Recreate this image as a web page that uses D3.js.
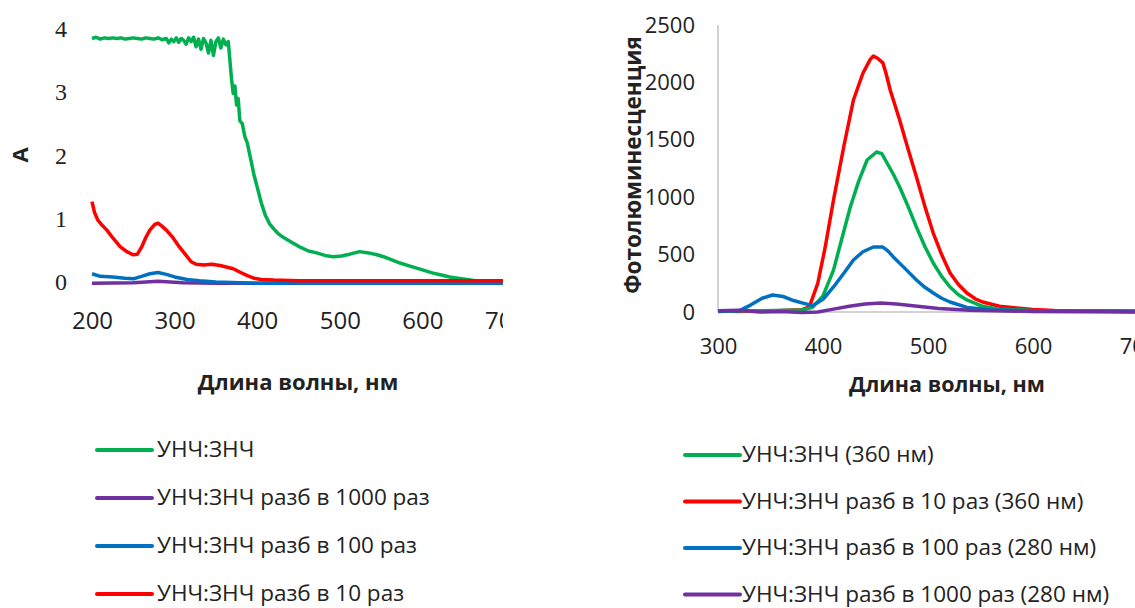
<!DOCTYPE html>
<html>
<head>
<meta charset="utf-8">
<script src="https://cdn.jsdelivr.net/npm/d3@7"></script>
<style>
  body { margin: 0; background: #fff; }
  text { font-family: "Open Sans", sans-serif; fill: #222; }
</style>
</head>
<body>
<div id="chart"></div>
<script>
// absorbance panel (left)
var absWl = {
    green: [200,205,210,215,220,225,230,235,240,245,250,255,260,265,270,275,280,285,290,293,296,299,302,305,308,311,314,317,320,323,326,329,332,335,338,341,344,347,350,353,356,359,362,365,367,369,371,373,375,377,379,382,385,388,392,396,400,405,410,415,420,425,431,440,452,462,472,482,492,502,512,524,535,545,553,563,573,583,593,603,613,623,633,643,654,664,673,685,700],
    purple: [200,250,280,310,350,700],
    blue: [200,210,225,240,250,260,270,280,290,300,315,330,350,400,700],
    red: [200,203,207,212,218,225,234,242,250,255,260,265,270,276,280,285,290,298,306,314,320,326,335,345,355,365,371,380,388,396,405,420,450,500,600,700]
};
var absVal = {
    green: [3.85,3.87,3.84,3.86,3.85,3.86,3.85,3.86,3.84,3.85,3.86,3.85,3.84,3.86,3.85,3.84,3.86,3.83,3.85,3.78,3.84,3.80,3.86,3.79,3.85,3.82,3.76,3.86,3.80,3.87,3.72,3.84,3.68,3.85,3.78,3.62,3.82,3.58,3.80,3.86,3.70,3.84,3.75,3.80,3.50,3.20,2.98,3.10,2.80,2.90,2.55,2.50,2.30,2.20,1.95,1.70,1.50,1.25,1.05,0.92,0.84,0.77,0.71,0.64,0.55,0.49,0.46,0.42,0.40,0.41,0.44,0.48,0.46,0.43,0.40,0.35,0.30,0.26,0.22,0.18,0.14,0.11,0.08,0.06,0.04,0.02,0.01,0.0,0.0],
    purple: [-0.02,-0.01,0.01,-0.01,-0.02,-0.02],
    blue: [0.13,0.09,0.08,0.06,0.05,0.09,0.13,0.15,0.12,0.08,0.04,0.02,0.0,-0.02,-0.02],
    red: [1.27,1.10,0.98,0.90,0.82,0.70,0.56,0.48,0.43,0.44,0.55,0.70,0.82,0.91,0.93,0.88,0.82,0.70,0.55,0.42,0.32,0.28,0.27,0.28,0.26,0.23,0.21,0.15,0.10,0.06,0.04,0.03,0.02,0.02,0.02,0.02]
};
var absOrder = ["green", "purple", "blue", "red"];
var absLegend = ["УНЧ:ЗНЧ", "УНЧ:ЗНЧ разб в 1000 раз", "УНЧ:ЗНЧ разб в 100 раз", "УНЧ:ЗНЧ разб в 10 раз"];
var absXTicks = [200, 300, 400, 500, 600, 700];
var absYTicks = [0, 1, 2, 3, 4];

// photoluminescence panel (right)
var plWl = {
    red: [300,320,340,360,380,387,395,402,410,420,429,438,445,448,452,457,460,464,473,481,489,497,505,513,521,529,537,545,552,568,584,600,620,650,700],
    green: [300,340,380,390,400,410,418,426,434,442,451,456,461,467,473,481,489,497,505,513,521,529,537,552,568,600,650,700],
    blue: [300,320,331,342,352,362,372,380,390,400,410,420,429,438,448,457,462,467,478,489,497,505,513,521,537,560,600,700],
    purple: [300,320,340,360,380,395,410,425,440,455,470,490,510,540,600,700]
};
var plVal = {
    red: [10,5,10,12,20,45,250,560,975,1450,1847,2080,2200,2230,2210,2170,2080,1934,1672,1420,1176,920,688,500,340,240,165,115,87,50,35,22,14,10,8],
    green: [10,10,18,40,140,365,640,915,1140,1324,1394,1380,1298,1200,1089,920,740,570,427,310,218,150,105,50,25,12,8,5],
    blue: [5,10,60,120,148,135,100,80,55,110,218,340,453,525,566,566,530,480,380,279,215,165,120,87,40,20,10,5],
    purple: [10,15,0,5,-5,0,25,50,70,78,70,50,30,15,5,0]
};
var plOrder = ["red", "green", "blue", "purple"];
var plLegendKeys = ["green", "red", "blue", "purple"];
var plLegend = ["УНЧ:ЗНЧ (360 нм)", "УНЧ:ЗНЧ разб в 10 раз (360 нм)", "УНЧ:ЗНЧ разб в 100 раз (280 нм)", "УНЧ:ЗНЧ разб в 1000 раз (280 нм)"];
var plXTicks = [300, 400, 500, 600, 700];
var plYTicks = [0, 500, 1000, 1500, 2000, 2500];

var colors = {green: "#00b050", purple: "#7030a0", blue: "#0070c0", red: "#ff0000"};

var svg = d3.select("#chart").append("svg")
    .attr("width", 1135)
    .attr("height", 608);

svg.append("clipPath").attr("id", "leftclip")
    .append("rect").attr("x", 0).attr("y", 0).attr("width", 503).attr("height", 608);

function pts(wl, val) {
    return wl.map(function(w, i) { return {wl: w, v: val[i]}; });
}

// ---- left chart
var xa = d3.scaleLinear().domain([200, 700]).range([92, 505]);
var ya = d3.scaleLinear().domain([0, 4]).range([282, 29]);
var left = svg.append("g").attr("clip-path", "url(#leftclip)");

var lineA = d3.line()
    .x(function(d) { return xa(d.wl); })
    .y(function(d) { return ya(d.v); });

absOrder.forEach(function(k) {
    left.append("path")
        .datum(pts(absWl[k], absVal[k]))
        .attr("fill", "none")
        .attr("stroke", colors[k])
        .attr("stroke-width", 3.5)
        .attr("stroke-linejoin", "round")
        .attr("d", lineA);
});

var xAxA = left.append("g")
    .attr("transform", "translate(0," + ya(0) + ")")
    .call(d3.axisBottom(xa).tickValues(absXTicks).tickFormat(d3.format("d")).tickSize(0).tickPadding(30));
xAxA.select(".domain").remove();
xAxA.selectAll("text").style("font-size", "24px").attr("fill", "#222");

var yAxA = left.append("g")
    .attr("transform", "translate(" + xa(200) + ",0)")
    .call(d3.axisLeft(ya).tickValues(absYTicks).tickFormat(d3.format("d")).tickSize(0).tickPadding(25));
yAxA.select(".domain").remove();
yAxA.selectAll("text").style("font-size", "24px").style("font-family", "Liberation Serif").attr("fill", "#222");

svg.append("text")
    .attr("x", 298).attr("y", 390)
    .attr("text-anchor", "middle")
    .style("font-size", "22px").style("font-weight", "bold")
    .text("Длина волны, нм");

svg.append("text")
    .attr("transform", "translate(28,155) rotate(-90)")
    .attr("text-anchor", "middle")
    .style("font-size", "22px").style("font-weight", "bold")
    .text("A");

var legA = svg.append("g");
absOrder.forEach(function(k, i) {
    var y = 450 + i * 48;
    legA.append("line")
        .attr("x1", 97).attr("x2", 152).attr("y1", y).attr("y2", y)
        .attr("stroke", colors[k]).attr("stroke-width", 4).attr("stroke-linecap", "round");
    legA.append("text")
        .attr("x", 157).attr("y", y + 7)
        .style("font-size", "22.5px")
        .text(absLegend[i]);
});

// ---- right chart
var xp = d3.scaleLinear().domain([300, 700]).range([718, 1138]);
var yp = d3.scaleLinear().domain([0, 2500]).range([312, 25]);

svg.append("line")
    .attr("x1", xp(300)).attr("x2", xp(300))
    .attr("y1", yp(2500)).attr("y2", yp(0))
    .attr("stroke", "#a6a6a6").attr("stroke-width", 1);
svg.append("line")
    .attr("x1", xp(300)).attr("x2", xp(700))
    .attr("y1", yp(0)).attr("y2", yp(0))
    .attr("stroke", "#a6a6a6").attr("stroke-width", 1);

var lineP = d3.line()
    .x(function(d) { return xp(d.wl); })
    .y(function(d) { return yp(d.v); });

plOrder.forEach(function(k) {
    svg.append("path")
        .datum(pts(plWl[k], plVal[k]))
        .attr("fill", "none")
        .attr("stroke", colors[k])
        .attr("stroke-width", 3.5)
        .attr("stroke-linejoin", "round")
        .attr("d", lineP);
});

var xAxP = svg.append("g")
    .attr("transform", "translate(0," + yp(0) + ")")
    .call(d3.axisBottom(xp).tickValues(plXTicks).tickFormat(d3.format("d")).tickSize(0).tickPadding(26));
xAxP.select(".domain").remove();
xAxP.selectAll("text").style("font-size", "22px").attr("fill", "#333");

var yAxP = svg.append("g")
    .attr("transform", "translate(" + xp(300) + ",0)")
    .call(d3.axisLeft(yp).tickValues(plYTicks).tickFormat(d3.format("d")).tickSize(0).tickPadding(23));
yAxP.select(".domain").remove();
yAxP.selectAll("text").style("font-size", "22px").attr("fill", "#333");

svg.append("text")
    .attr("x", 947).attr("y", 392)
    .attr("text-anchor", "middle")
    .style("font-size", "21.5px").style("font-weight", "bold")
    .text("Длина волны, нм");

svg.append("text")
    .attr("transform", "translate(641,165) rotate(-90)")
    .attr("text-anchor", "middle")
    .style("font-size", "22.5px").style("font-weight", "bold")
    .text("Фотолюминесценция");

var legP = svg.append("g");
plLegendKeys.forEach(function(k, i) {
    var y = 455 + i * 46.5;
    legP.append("line")
        .attr("x1", 685).attr("x2", 740).attr("y1", y).attr("y2", y)
        .attr("stroke", colors[k]).attr("stroke-width", 4).attr("stroke-linecap", "round");
    legP.append("text")
        .attr("x", 742).attr("y", y + 7)
        .style("font-size", "22.5px")
        .text(plLegend[i]);
});
</script>
</body>
</html>
